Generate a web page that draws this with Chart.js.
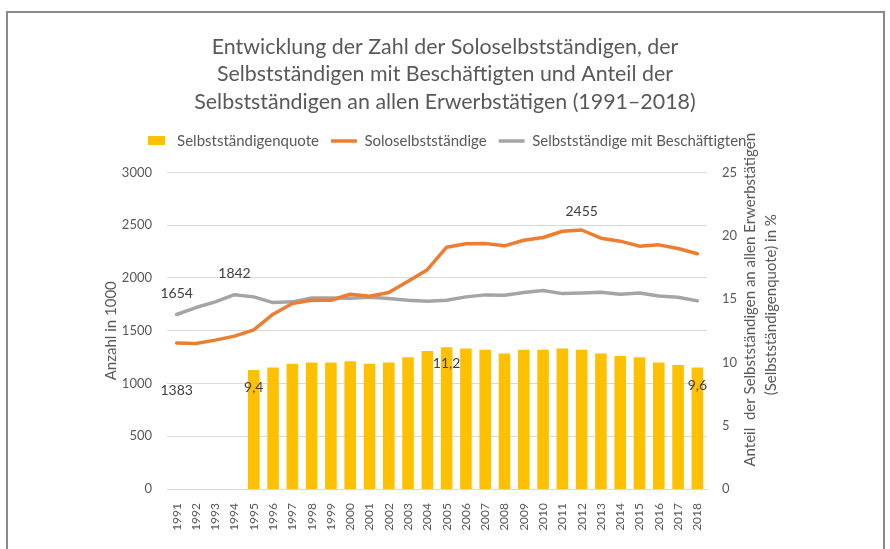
<!DOCTYPE html>
<html lang="de">
<head>
<meta charset="utf-8">
<title>Selbstständige 1991–2018</title>
<script src="https://cdn.jsdelivr.net/npm/chart.js@4.4.1/dist/chart.umd.min.js"></script>
<style>
  html, body { margin: 0; padding: 0; background: #fff; overflow: hidden; }
  #wrap { position: relative; width: 890px; height: 549px; }
  #frame { position: absolute; left: 6px; top: 11px; width: 879px; height: 600px; border: 2px solid #8a8a8a; box-sizing: border-box; }
  #myChart { position: absolute; left: 0; top: 0; }
</style>
</head>
<body>
<div id="wrap">
  <div id="frame"></div>
  <canvas id="myChart" width="890" height="549"></canvas>
</div>
<script>
// Werte
const years = ['1991','1992','1993','1994','1995','1996','1997','1998','1999','2000',
  '2001','2002','2003','2004','2005','2006','2007','2008','2009','2010',
  '2011','2012','2013','2014','2015','2016','2017','2018'];

// Selbstständigenquote in % (rechte Achse), erst ab 1995
const quote = [null, null, null, null, 9.4, 9.6, 9.9, 10.0, 10.0, 10.1,
  9.9, 10.0, 10.4, 10.9, 11.2, 11.1, 11.0, 10.7, 11.0, 11.0,
  11.1, 11.0, 10.7, 10.5, 10.4, 10.0, 9.8, 9.6];

// Soloselbstständige in 1000
const solo = [1383, 1380, 1411, 1449, 1509, 1657, 1758, 1789, 1789, 1846,
  1827, 1862, 1969, 2079, 2292, 2324, 2327, 2305, 2358, 2384,
  2443, 2455, 2377, 2349, 2302, 2314, 2280, 2230];

// Selbstständige mit Beschäftigten in 1000
const withStaff = [1654, 1720, 1774, 1842, 1821, 1767, 1774, 1811, 1811, 1808,
  1818, 1805, 1789, 1780, 1789, 1821, 1840, 1836, 1862, 1881,
  1852, 1858, 1865, 1846, 1858, 1830, 1818, 1783];

const leftTicks = [0, 500, 1000, 1500, 2000, 2500, 3000];
const rightTicks = [0, 5, 10, 15, 20, 25];

const titleLines = [
  'Entwicklung der Zahl der Soloselbstständigen, der',
  'Selbstständigen mit Beschäftigten und Anteil der',
  'Selbstständigen an allen Erwerbstätigen (1991–2018)'
];
const rightTitle = ['Anteil  der Selbstständigen an allen Erwerbstätigen', '(Selbstständigenquote) in %'];

// einzelne Datenbeschriftungen: [Datensatz, Index, Text, Versatz y]
const pointLabels = [
  [2, 0, '1654', -21],
  [2, 3, '1842', -21],
  [1, 0, '1383', 47],
  [1, 21, '2455', -19],
  [0, 4, '9,4', 17],
  [0, 14, '11,2', 16],
  [0, 27, '9,6', 18]
];

const FONT = 'Lato, "Open Sans", sans-serif';
const GREY_TEXT = '#595959';

// kleines Rechteck als Legendensymbol für die Balken
const barIcon = document.createElement('canvas');
barIcon.width = 17;
barIcon.height = 9;
const ic = barIcon.getContext('2d');
ic.fillStyle = '#FFC000';
ic.fillRect(0, 0, 17, 9);

const labelPlugin = {
  id: 'pointLabels',
  afterDatasetsDraw(chart) {
    const c = chart.ctx;
    c.save();
    c.font = '14px ' + FONT;
    c.fillStyle = '#404040';
    c.textAlign = 'center';
    c.textBaseline = 'middle';
    pointLabels.forEach(([ds, i, txt, dy]) => {
      const el = chart.getDatasetMeta(ds).data[i];
      c.fillText(txt, el.x, el.y + dy);
    });
    c.restore();
  }
};

const rightTitlePlugin = {
  id: 'rightTitle',
  afterDraw(chart) {
    const c = chart.ctx;
    const s = chart.scales.y1;
    const mid = (s.top + s.bottom) / 2 - 31;
    c.save();
    c.font = '15px ' + FONT;
    c.fillStyle = GREY_TEXT;
    c.textAlign = 'center';
    c.textBaseline = 'middle';
    [[43, rightTitle[0], 0], [64, rightTitle[1], 5]].forEach(([dx, txt, dy]) => {
      c.save();
      c.translate(s.left + dx, mid + dy);
      c.rotate(-Math.PI / 2);
      c.fillText(txt, 0, 0);
      c.restore();
    });
    c.restore();
  }
};

const legendSpace = {
  id: 'legendSpace',
  beforeInit(chart) {
    const fit = chart.legend.fit;
    chart.legend.fit = function () {
      fit.bind(chart.legend)();
      this.height += 14;
    };
  }
};

let ctx = document.getElementById('myChart');

let myChart = new Chart(ctx, {
  type: 'bar',
  data: {
    labels: years,
    datasets: [{
      type: 'bar',
      label: 'Selbstständigenquote',
      data: quote,
      yAxisID: 'y1',
      backgroundColor: '#FFC000',
      borderWidth: 0,
      barPercentage: 0.6,
      categoryPercentage: 1.0,
      pointStyle: barIcon
    }, {
      type: 'line',
      label: 'Soloselbstständige',
      data: solo,
      yAxisID: 'y',
      borderColor: '#ED7D31',
      backgroundColor: '#ED7D31',
      borderWidth: 3.5,
      tension: 0,
      pointRadius: 0,
      borderCapStyle: 'round',
      borderJoinStyle: 'round',
      pointStyle: 'line'
    }, {
      type: 'line',
      label: 'Selbstständige mit Beschäftigten',
      data: withStaff,
      yAxisID: 'y',
      borderColor: '#A5A5A5',
      backgroundColor: '#A5A5A5',
      borderWidth: 3.5,
      tension: 0,
      pointRadius: 0,
      borderCapStyle: 'round',
      borderJoinStyle: 'round',
      pointStyle: 'line'
    }]
  },
  options: {
    responsive: false,
    maintainAspectRatio: false,
    animation: false,
    layout: { padding: { left: 0, right: 0, top: 0, bottom: 0 } },
    plugins: {
      tooltip: { enabled: false },
      title: {
        display: true,
        text: titleLines,
        color: GREY_TEXT,
        font: { family: FONT, size: 21.4, weight: 'normal', lineHeight: 1.285 },
        padding: { top: 33, bottom: 6 }
      },
      legend: {
        display: true,
        labels: {
          color: GREY_TEXT,
          font: { family: FONT, size: 15 },
          usePointStyle: true,
          pointStyleWidth: 26,
          boxHeight: 9,
          padding: 12
        }
      }
    },
    scales: {
      x: {
        offset: true,
        grid: { display: false },
        border: { display: true, color: '#D9D9D9', width: 1 },
        ticks: {
          color: GREY_TEXT,
          font: { family: FONT, size: 12 },
          minRotation: 90,
          maxRotation: 90,
          autoSkip: false,
          padding: 6
        },
        afterFit(scale) { scale.height = 60; }
      },
      y: {
        position: 'left',
        min: 0,
        max: 3000,
        afterBuildTicks(scale) { scale.ticks = leftTicks.map(v => ({ value: v })); },
        grid: { color: '#D9D9D9', drawTicks: false },
        border: { display: false },
        ticks: {
          color: GREY_TEXT,
          font: { family: FONT, size: 13 },
          padding: 15,
          callback: v => String(v)
        },
        title: {
          display: true,
          text: 'Anzahl in 1000',
          color: GREY_TEXT,
          font: { family: FONT, size: 15 },
          padding: { top: 102, bottom: 0 }
        },
        afterFit(scale) { scale.width = 167; }
      },
      y1: {
        position: 'right',
        min: 0,
        max: 25,
        afterBuildTicks(scale) { scale.ticks = rightTicks.map(v => ({ value: v })); },
        grid: { display: false, drawTicks: false },
        border: { display: false },
        ticks: {
          color: GREY_TEXT,
          font: { family: FONT, size: 13 },
          padding: 15,
          callback: v => String(v)
        },
        afterFit(scale) { scale.width = 183; }
      }
    }
  },
  plugins: [labelPlugin, rightTitlePlugin, legendSpace]
});
</script>
</body>
</html>
